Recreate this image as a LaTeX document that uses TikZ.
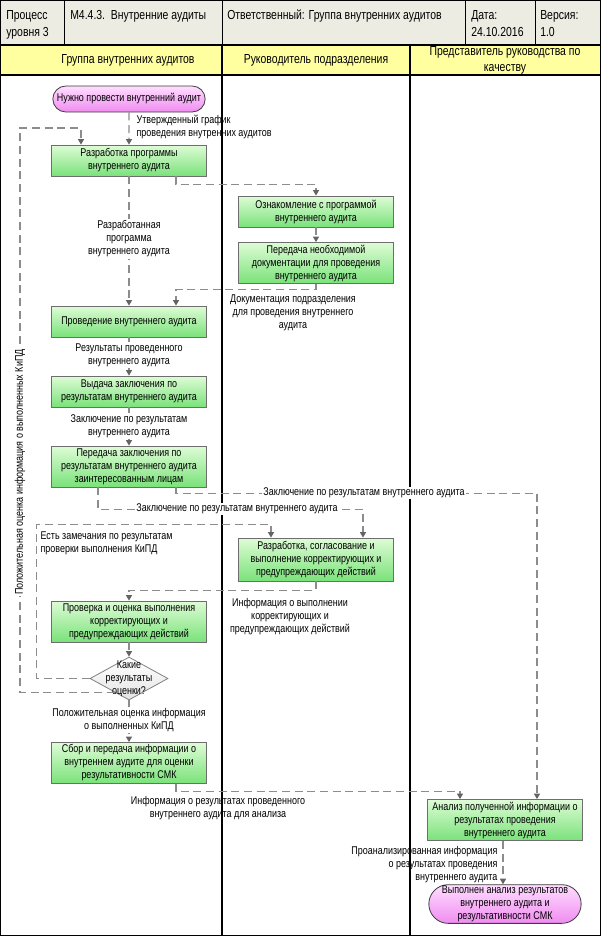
\documentclass[tikz,border=0pt]{standalone}
\usepackage{fontspec}
\setmainfont[FakeStretch=0.8]{Liberation Sans}
\usetikzlibrary{arrows.meta,calc,shapes.geometric,shapes.misc}
\definecolor{hdrgray}{RGB}{236,236,226}
\definecolor{hdryel}{RGB}{255,255,160}
\definecolor{boxtop}{RGB}{222,252,214}
\definecolor{boxbot}{RGB}{122,226,122}
\definecolor{boxborder}{RGB}{110,110,110}
\definecolor{termtop}{RGB}{255,222,255}
\definecolor{termbot}{RGB}{240,140,240}
\definecolor{termborder}{RGB}{60,60,60}
\definecolor{decbot}{RGB}{228,228,228}
\definecolor{decborder}{RGB}{128,128,128}
\definecolor{flowgray}{RGB}{140,140,140}
\definecolor{tipgray}{RGB}{100,100,100}
\newcommand\bodyfs{\fontsize{8.4pt}{9.75pt}\selectfont}
\newcommand\hdrfs{\fontsize{9.8pt}{12.75pt}\selectfont}
\newcommand\lanefs{\fontsize{9.8pt}{12pt}\selectfont}
\begin{document}
\begin{tikzpicture}[x=0.75pt,y=-0.75pt,
  proc/.style={draw=boxborder, line width=0.6pt, top color=boxtop, bottom color=boxbot,
    minimum width=116.25pt, minimum height=23.25pt, align=center, font=\bodyfs, inner sep=1pt},
  term/.style={rounded rectangle, draw=termborder, line width=0.6pt, top color=termtop,
    bottom color=termbot, minimum width=116.25pt, align=center, font=\bodyfs, inner sep=1pt},
  decision/.style={diamond, draw=decborder, line width=0.6pt, top color=white, bottom color=decbot,
    minimum width=58.5pt, minimum height=32.25pt, inner sep=0pt},
  flow/.style={draw=flowgray, line width=0.85pt, dash pattern=on 6pt off 3.5pt,
    -{Triangle[width=4.6pt,length=4.2pt,fill=tipgray,color=tipgray]}},
  lbl/.style={font=\bodyfs, align=center, inner sep=1pt},
  onl/.style={lbl, fill=white},
  hdr/.style={font=\hdrfs, align=left, inner sep=0pt},
  lanehdr/.style={font=\lanefs, align=center, inner sep=0pt},
]
\useasboundingbox (0,0) rectangle (601,936);
% header backgrounds
\fill[hdrgray] (0,0) rectangle (601,45);
\fill[hdryel] (0,45) rectangle (601,75);
\draw[line width=0.6pt] (64,0) -- (64,45);
\draw[line width=0.6pt] (222,0) -- (222,45);
\draw[line width=0.6pt] (465,0) -- (465,45);
\draw[line width=0.6pt] (535,0) -- (535,45);
\draw[line width=0.8pt] (0,45) -- (601,45);
\draw[line width=0.8pt] (0,75) -- (601,75);
\draw[line width=1pt] (222,45) -- (222,936);
\draw[line width=1pt] (410,45) -- (410,936);
\draw[line width=1.2pt] (0.6,0.6) rectangle (600.4,935.4);
% header texts
\node[hdr, anchor=north west] (h1) at (6,10) {Процесс\\уровня 3};
\node[hdr, anchor=north west] (h2) at (70,10) {М4.4.3.\ \ Внутренние аудиты};
\node[hdr, anchor=north west] (h3) at (227,10) {Ответственный: Группа внутренних аудитов};
\node[hdr, anchor=north west] (h4) at (471,10) {Дата:\\24.10.2016};
\node[hdr, anchor=north west] (h5) at (540,10) {Версия:\\1.0};
\node[lanehdr] (lh1) at (128,60) {Группа внутренних аудитов};
\node[lanehdr] (lh2) at (316,60) {Руководитель подразделения};
\node[lanehdr] (lh3) at (505,60) {Представитель руководства по\\качеству};
% nodes
\node[term, minimum height=19.5pt] (start) at (129,99) {Нужно провести внутренний аудит};
\node[proc] (p2) at (129,160.5) {Разработка программы\\внутреннего аудита};
\node[proc] (p3) at (316,211.5) {Ознакомление с программой\\внутреннего аудита};
\node[proc, minimum height=30.75pt] (p4) at (316,263) {Передача необходимой\\документации для проведения\\внутреннего аудита};
\node[proc] (p5) at (129,321.5) {Проведение внутреннего аудита};
\node[proc] (p6) at (129,391.5) {Выдача заключения по\\результатам внутреннего аудита};
\node[proc, minimum height=30.75pt] (p7) at (129,466.5) {Передача заключения по\\результатам внутреннего аудита\\заинтересованным лицам};
\node[proc, minimum height=32.25pt] (p8) at (316,559.5) {Разработка, согласование и\\выполнение корректирующих и\\предупреждающих действий};
\node[proc, minimum height=30.75pt] (p9) at (129,621.5) {Проверка и оценка выполнения\\корректирующих и\\предупреждающих действий};
\node[decision] (dec) at (129,678.5) {};
\node[lbl] (dect) at (129,679) {Какие\\результаты\\оценки?};
\node[proc, minimum height=30.75pt] (p11) at (129,763) {Сбор и передача информации о\\внутреннем аудите для оценки\\результативности СМК};
\node[proc, minimum height=30.75pt] (p12) at (505,820) {Анализ полученной информации о\\результатах проведения\\внутреннего аудита};
\node[term, minimum height=28.5pt] (end) at (505,904) {Выполнен анализ результатов\\внутреннего аудита и\\результативности СМК};
% connectors
\draw[flow] (start) -- (p2);
\node[lbl, anchor=west, align=left] (l1) at (135,127) {Утвержденный график\\проведения внутренних аудитов};
\draw[flow] ($(p2.south)+(47,0)$) -- ++(0,8) -| (p3.north);
\draw[flow] (p3) -- (p4);
\draw[flow] (p4.south) -- ++(0,6) -| ($(p5.north)+(47,0)$);
\node[lbl] (l2) at (293,313) {Документация подразделения\\для проведения внутреннего\\аудита};
\draw[flow] (p2) -- (p5);
\node[onl] (l3) at (129,239) {Разработанная\\программа\\внутреннего аудита};
\draw[flow] (p5) -- (p6);
\node[onl] (l4) at (129,355) {Результаты проведенного\\внутреннего аудита};
\draw[flow] (p6) -- (p7);
\node[onl] (l5) at (129,426) {Заключение по результатам\\внутреннего аудита};
\draw[flow] ($(p7.south)+(47,0)$) -- ++(0,6) -| ($(p12.north)+(32,0)$);
\node[onl] (l6) at (364,493) {Заключение по результатам внутреннего аудита};
\draw[flow] ($(p7.south)+(-31,0)$) -- ++(0,22) -| ($(p8.north)+(47,0)$);
\node[onl] (l7) at (237,509) {Заключение по результатам внутреннего аудита};
\draw[flow] (dec.west) -- ++(-53,0) -- ++(0,-154) -| ($(p8.north)+(-45,0)$);
\node[lbl, anchor=west, align=left] (l8) at (39,543) {Есть замечания по результатам\\проверки выполнения КиПД};
\draw[flow] (p8.south) -- ++(0,9) -| (p9.north);
\node[lbl] (l9) at (290,617) {Информация о выполнении\\корректирующих и\\предупреждающих действий};
\draw[flow] (p9) -- (dec);
\draw[flow] (dec) -- (p11);
\node[onl] (l10) at (129,720) {Положительная оценка информация\\о выполненных КиПД};
\coordinate (fb) at (20,128);
\draw[flow] ($(dec.west)!0.64!(dec.south)$) -| (fb) -| ($(p2.north)+(-48,0)$);
\node[onl, rotate=90] (l11) at (20,472) {Положительная оценка информация о выполненных КиПД};
\draw[flow] ($(p11.south)+(47,0)$) -- ++(0,8) -| ($(p12.north)+(-45,0)$);
\node[lbl] (l12) at (218,808) {Информация о результатах проведенного\\внутреннего аудита для анализа};
\draw[flow] ($(p12.south)+(-2,0)$) -- ($(end.north)+(-2,0)$);
\node[lbl, anchor=east, align=right] (l13) at (499,865) {Проанализированная информация\\о результатах проведения\\внутреннего аудита};
\end{tikzpicture}
\end{document}
